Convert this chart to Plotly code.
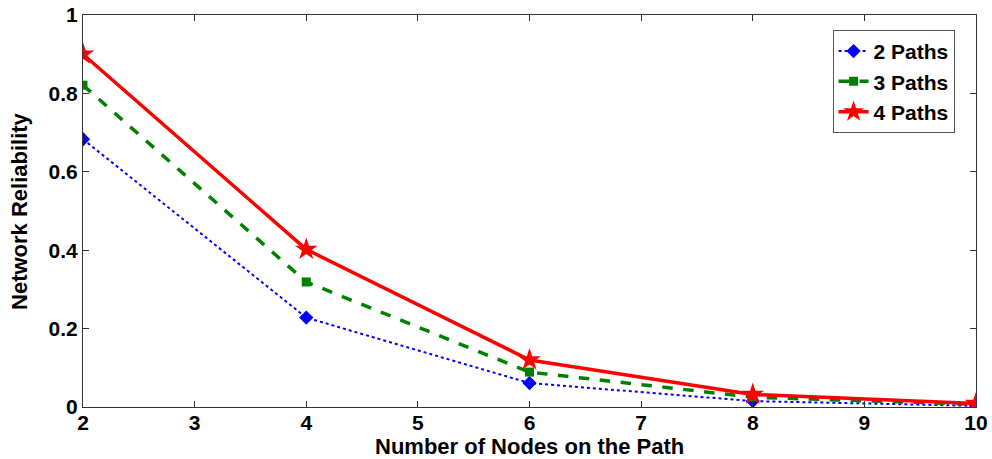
import plotly.graph_objects as go

nodes = [2, 4, 6, 8, 10]
paths2 = [0.683, 0.228, 0.061, 0.015, 0.003]
paths3 = [0.821, 0.319, 0.089, 0.025, 0.007]
paths4 = [0.900, 0.402, 0.120, 0.032, 0.009]
x_ticks = [2, 3, 4, 5, 6, 7, 8, 9, 10]
y_ticks = [0, 0.2, 0.4, 0.6, 0.8, 1]
y_tick_text = ["0", "0.2", "0.4", "0.6", "0.8", "1"]

font_family = "Liberation Sans, Arial, sans-serif"
fs = 21

fig = go.Figure()
fig.add_trace(go.Scatter(x=nodes, y=paths2, name="<b>2 Paths</b>", mode="lines+markers",
                         line=dict(color="#0000ff", width=2, dash="dot"),
                         marker=dict(symbol="diamond", size=11, color="#0000ff")))
fig.add_trace(go.Scatter(x=nodes, y=paths3, name="<b>3 Paths</b>", mode="lines+markers",
                         line=dict(color="#008000", width=3.5, dash="dash"),
                         marker=dict(symbol="square", size=9, color="#008000")))
fig.add_trace(go.Scatter(x=nodes, y=paths4, name="<b>4 Paths</b>", mode="lines+markers",
                         line=dict(color="#ff0000", width=3.5),
                         marker=dict(symbol="star", size=17, color="#ff0000")))

axis_common = dict(showline=True, linecolor="#333333", linewidth=1, mirror="ticks",
                   ticks="inside", ticklen=6, tickcolor="#333333", showgrid=False,
                   zeroline=False, automargin=False,
                   tickfont=dict(family=font_family, size=fs, color="black"))

fig.update_layout(
    width=992, height=459,
    margin=dict(l=83, r=16, t=15, b=52),
    plot_bgcolor="white", paper_bgcolor="white",
    font=dict(family=font_family, color="black", size=fs),
    xaxis=dict(range=[2, 10], tickvals=x_ticks, ticktext=[f"<b>{t}</b>" for t in x_ticks],
               ticklabelstandoff=-3, **axis_common),
    yaxis=dict(range=[0, 1], tickvals=y_ticks, ticktext=[f"<b>{t}</b>" for t in y_tick_text],
               **axis_common),
    legend=dict(x=0.976, y=0.962, xanchor="right", yanchor="top",
                bgcolor="white", bordercolor="#555555", borderwidth=1,
                font=dict(family=font_family, size=21), tracegroupgap=0,
                itemwidth=30),
    showlegend=True,
    annotations=[
        dict(text="<b>Number of Nodes on the Path</b>", xref="paper", yref="paper",
             x=0.5, y=-0.1, xanchor="center", yanchor="middle", showarrow=False,
             font=dict(family=font_family, size=22, color="black")),
        dict(text="<b>Network Reliability</b>", xref="paper", yref="paper",
             x=-0.0717, y=0.5, xanchor="center", yanchor="middle", showarrow=False,
             textangle=-90, font=dict(family=font_family, size=22, color="black")),
    ],
)

fig.write_html("out.html")
